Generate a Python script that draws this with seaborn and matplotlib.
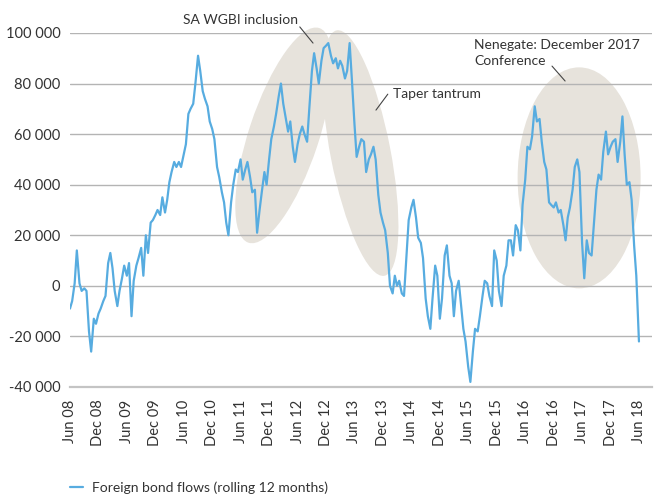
import pandas as pd
import matplotlib
matplotlib.use('Agg')
import matplotlib.pyplot as plt
import matplotlib.dates as mdates
from matplotlib.patches import Ellipse
from matplotlib.transforms import ScaledTranslation
import seaborn as sns

# Foreign bond flows, rolling 12 months (thousands), read twice a month from Jun 2008
flows_2008 = [-9, -6, 1, 14, 1, -2, -1, -2, -18, -26, -13, -15,
              -11, -9, -6, -4, 9, 13, 7, -2, -8, -2, 3, 8]
flows_2009 = [4, 9, -12, 2, 8, 11, 15, 4, 20, 13, 25, 26,
              28, 30, 28, 35, 29, 34, 41, 45, 49, 47, 49, 47]
flows_2010 = [52, 56, 68, 70, 72, 80, 91, 85, 77, 74, 71, 65,
              62, 58, 47, 43, 37, 33, 25, 20, 33, 40, 46, 45]
flows_2011 = [50, 42, 46, 49, 43, 37, 38, 21, 30, 37, 45, 40,
              50, 58, 63, 68, 75, 80, 72, 67, 61, 65, 55, 49]
flows_2012 = [56, 60, 63, 60, 57, 70, 85, 92, 86, 80, 89, 94,
              95, 96, 91, 88, 90, 86, 89, 87, 82, 85, 96, 82]
flows_2013 = [64, 51, 55, 58, 57, 45, 50, 52, 55, 50, 36, 29,
              25, 22, 13, 0, -3, 4, 0, 2, -3, -4, 12, 26]
flows_2014 = [31, 34, 27, 19, 17, 11, -5, -12, -17, -5, 8, 4,
              -13, -5, 12, 16, 4, 1, -12, -2, 2, -7, -17, -22]
flows_2015 = [-32, -38, -26, -17, -18, -12, -4, 2, 1, -4, -8, 14,
              10, -2, -8, 4, 8, 18, 18, 12, 24, 22, 14, 32]
flows_2016 = [42, 55, 54, 59, 71, 65, 66, 57, 49, 46, 33, 32,
              31, 33, 29, 30, 24, 18, 27, 31, 38, 47, 50, 45]
flows_2017 = [17, 3, 18, 13, 12, 24, 38, 44, 42, 53, 61, 52,
              55, 57, 58, 49, 57, 67, 52, 40, 41, 34, 16, 4, -22]
start_date = '2008-06-01'

tick_labels = ['Jun 08', 'Dec 08', 'Jun 09', 'Dec 09', 'Jun 10', 'Dec 10', 'Jun 11',
               'Dec 11', 'Jun 12', 'Dec 12', 'Jun 13', 'Dec 13', 'Jun 14', 'Dec 14',
               'Jun 15', 'Dec 15', 'Jun 16', 'Dec 16', 'Jun 17', 'Dec 17', 'Jun 18']
y_ticks = [-40, -20, 0, 20, 40, 60, 80, 100]
y_tick_labels = ['-40 000', '-20 000', '0', '20 000', '40 000', '60 000', '80 000', '100 000']
series_name = 'Foreign bond flows (rolling 12 months)'

# Shaded episodes: centre (date, value), long and short axis in pixels, tilt
episodes = [
    ('2012-03-05', 59.5, 226, 70, 71.7),
    ('2013-07-10', 52.5, 250, 60, -79.0),
    ('2017-05-13', 42.7, 123, 221, 0.0),
]

BLUE = '#57ace0'
SHADE = '#e7e3dc'
TEXT = '#333333'
GRID = '#b4b4b4'

flows = (flows_2008 + flows_2009 + flows_2010 + flows_2011 + flows_2012 +
         flows_2013 + flows_2014 + flows_2015 + flows_2016 + flows_2017)
df = pd.DataFrame({
    'date': pd.date_range(start_date, periods=len(flows), freq='SMS'),
    'flows': flows,
})

sns.set_style('white')
plt.rcParams['font.family'] = ['Lato', 'DejaVu Sans']

fig = plt.figure(figsize=(6.54, 4.95), dpi=100)
ax = fig.add_axes([0.107, 0.2182, 0.890, 0.7152])

sns.lineplot(data=df, x='date', y='flows', ax=ax, color=BLUE, lw=1.6,
             label=series_name, zorder=3)

ax.set_xlim(pd.Timestamp('2008-06-01'), pd.Timestamp('2018-08-24'))
ax.set_ylim(-40, 100)

for d, v, w, h, ang in episodes:
    tr = ScaledTranslation(mdates.date2num(pd.Timestamp(d)), v, ax.transData)
    ax.add_patch(Ellipse((0, 0), w, h, angle=ang, transform=tr,
                         facecolor=SHADE, edgecolor='none', zorder=0.2, clip_on=False))

# axes styling
ax.set_axisbelow(True)
ax.yaxis.grid(True, color=GRID, lw=1)
ax.xaxis.grid(False)
for s in ['top', 'right', 'left']:
    ax.spines[s].set_visible(False)
ax.spines['bottom'].set_color('#c4c4c4')
ax.spines['bottom'].set_linewidth(1.6)

tick_dates = pd.to_datetime(tick_labels, format='%b %y')
ax.set_xticks(tick_dates)
ax.set_xticklabels(tick_labels, rotation=90)
ax.set_yticks(y_ticks)
ax.set_yticklabels(y_tick_labels)
ax.tick_params(axis='x', length=6, width=1, color='#b4b4b4', pad=3,
               labelsize=10.5, labelcolor=TEXT)
ax.tick_params(axis='y', length=0, pad=7, labelsize=10.5, labelcolor=TEXT)
ax.set_xlabel('')
ax.set_ylabel('')


# leader lines from the notes to the shaded areas
def leader(xy, xytext):
    ax.annotate('', xy=(pd.Timestamp(xy[0]), xy[1]),
                xytext=(pd.Timestamp(xytext[0]), xytext[1]),
                arrowprops=dict(arrowstyle='-', color='#444444', lw=0.8,
                                shrinkA=0, shrinkB=0), annotation_clip=False)


ax.text(pd.Timestamp('2011-06-01'), 105.2, 'SA WGBI inclusion', ha='center', va='center',
        fontsize=10, color=TEXT, clip_on=False)
leader(('2012-09-08', 96.0), ('2012-06-15', 102.4))

ax.text(pd.Timestamp('2014-02-05'), 75.8, 'Taper tantrum', ha='left', va='center',
        fontsize=10, color=TEXT)
leader(('2013-10-17', 69.5), ('2014-01-01', 75.8))

ax.text(pd.Timestamp('2015-07-08'), 92.2, 'Nenegate: December 2017\nConference',
        ha='left', va='center', fontsize=10, color=TEXT, linespacing=1.4)
leader(('2017-02-12', 81.0), ('2016-11-20', 86.9))

leg = ax.legend(loc='center left', bbox_to_anchor=(70 / 654, 1 - 488 / 495),
                bbox_transform=fig.transFigure, frameon=False, handlelength=0.9,
                handletextpad=0.7, borderpad=0, borderaxespad=0, fontsize=10)
for t in leg.get_texts():
    t.set_color(TEXT)

fig.savefig('out.png', dpi=100)
